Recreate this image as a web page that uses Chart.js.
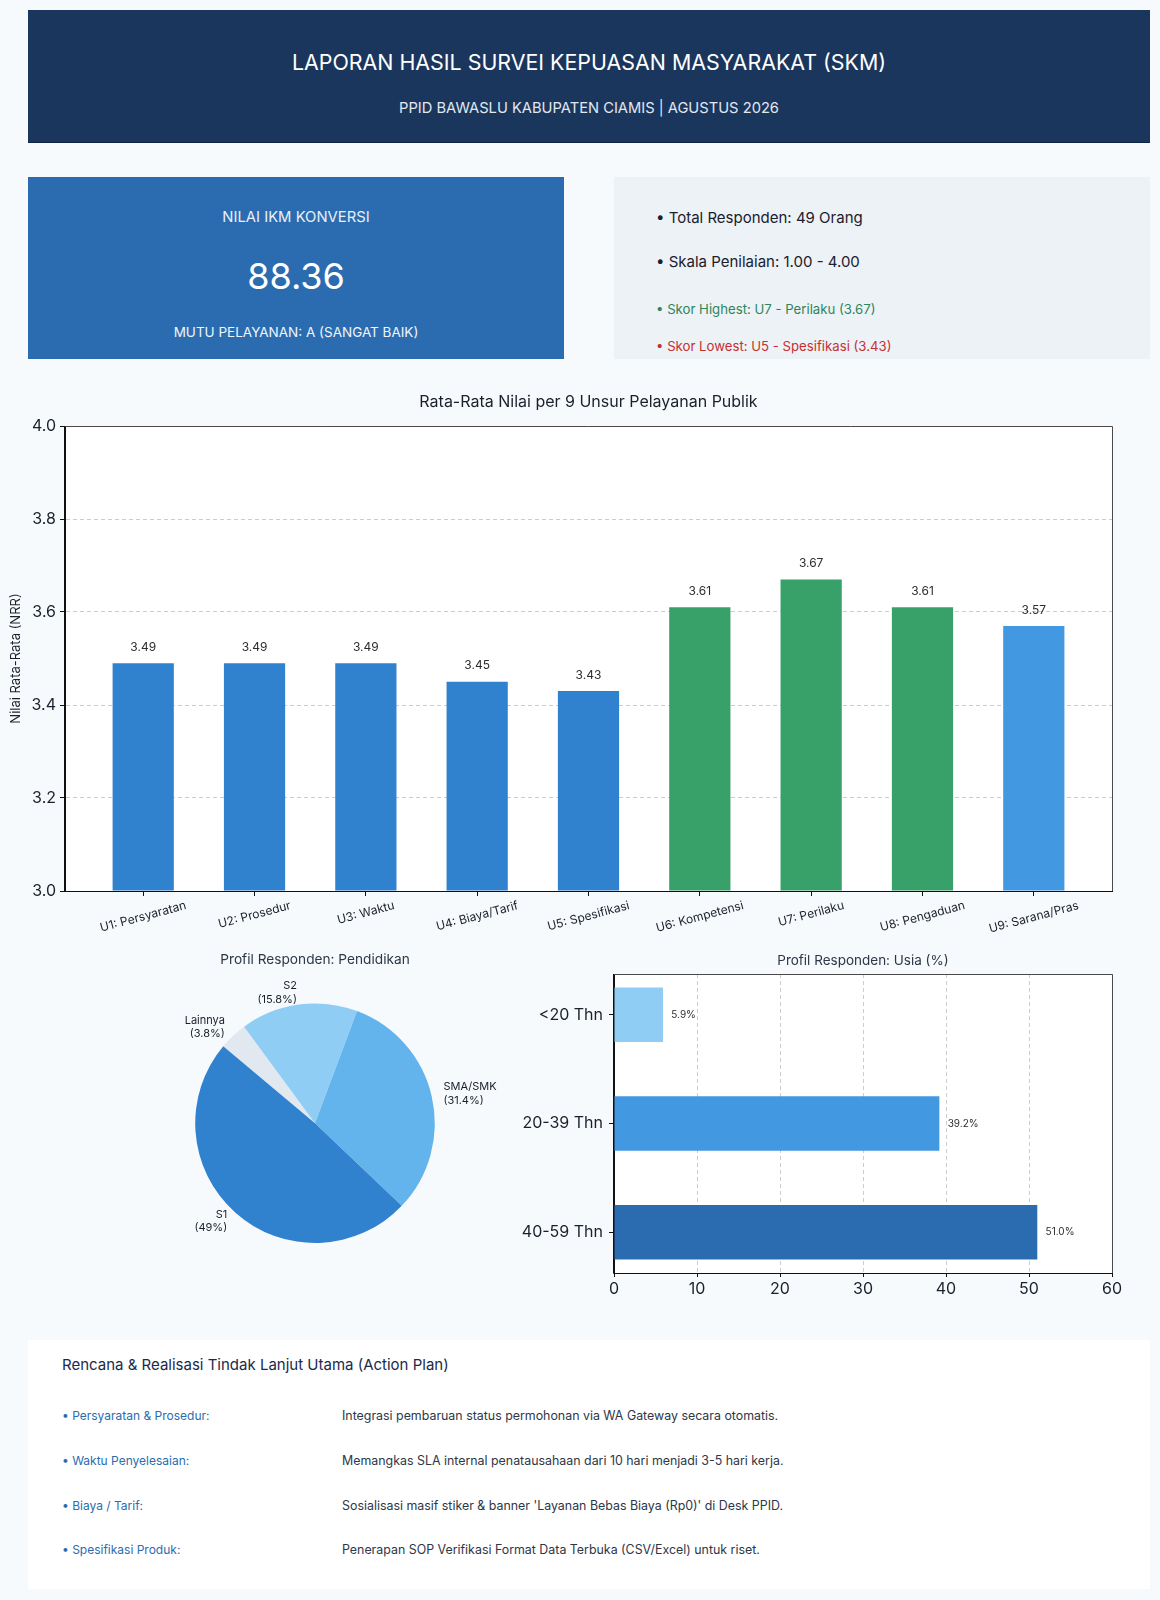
<!DOCTYPE html>
<html>
<head>
<meta charset="utf-8">
<script src="https://cdn.jsdelivr.net/npm/chart.js@4.4.1/dist/chart.umd.min.js"></script>
<style>
  html, body { margin: 0; padding: 0; }
  body { width: 1160px; height: 1600px; background: #f7fafc; position: relative; font-family: "Inter", "Noto Sans", sans-serif; overflow: hidden; }
  .abs { position: absolute; }
  .t { position: absolute; white-space: nowrap; }
  .c { transform: translateX(-50%); text-align: center; }
  #header { left: 28px; top: 10px; width: 1122px; height: 132px; background: #1a365d; border-bottom: 1px solid #0e2546; }
  #kpi { left: 28px; top: 177px; width: 536px; height: 182px; background: #2b6cb0; }
  #info { left: 614px; top: 177px; width: 536px; height: 182px; background: #edf2f7; }
  #action { left: 28px; top: 1340px; width: 1122px; height: 249px; background: #ffffff; }
  canvas { position: absolute; }
</style>
</head>
<body>
<div id="header" class="abs"></div>
<div class="t c" style="left:589px; top:49px; font-size:21.4px; line-height:26px; color:#ffffff;">LAPORAN HASIL SURVEI KEPUASAN MASYARAKAT (SKM)</div>
<div class="t c" style="left:589px; top:99px; font-size:14.7px; line-height:18px; color:#e2e8f0;">PPID BAWASLU KABUPATEN CIAMIS | AGUSTUS 2026</div>

<div id="kpi" class="abs"></div>
<div class="t c" style="left:296px; top:208px; font-size:14.8px; line-height:18px; color:#e6f0fa;">NILAI IKM KONVERSI</div>
<div class="t c" style="left:296px; top:252px; font-size:36px; line-height:48px; color:#ffffff;">88.36</div>
<div class="t c" style="left:296px; top:323px; font-size:13.5px; line-height:18px; color:#f0f6fc;">MUTU PELAYANAN: A (SANGAT BAIK)</div>

<div id="info" class="abs"></div>
<div class="t" style="left:656px; top:208px; font-size:15px; line-height:20px; color:#1a202c;">• Total Responden: 49 Orang</div>
<div class="t" style="left:656px; top:252px; font-size:15px; line-height:20px; color:#1a202c;">• Skala Penilaian: 1.00 - 4.00</div>
<div class="t" style="left:656px; top:300px; font-size:13.2px; line-height:18px; color:#2f855a;">• Skor Highest: U7 - Perilaku (3.67)</div>
<div class="t" style="left:656px; top:337px; font-size:13.2px; line-height:18px; color:#c53030;">• Skor Lowest: U5 - Spesifikasi (3.43)</div>

<canvas id="mainChart" style="left:0px; top:380px;" width="1160" height="560"></canvas>
<canvas id="pieChart" style="left:150px; top:940px;" width="370" height="320"></canvas>
<canvas id="ageChart" style="left:500px; top:940px;" width="660" height="365"></canvas>

<div id="action" class="abs"></div>
<div class="t" style="left:62px; top:1355px; font-size:15px; line-height:20px; color:#1a2a4a;">Rencana &amp; Realisasi Tindak Lanjut Utama (Action Plan)</div>
<div class="t" style="left:62px; top:1408px; font-size:12px; line-height:16px; color:#2b6cb0;">• Persyaratan &amp; Prosedur:</div>
<div class="t" style="left:342px; top:1408px; font-size:12.4px; line-height:16px; color:#2d3748;">Integrasi pembaruan status permohonan via WA Gateway secara otomatis.</div>
<div class="t" style="left:62px; top:1453px; font-size:12px; line-height:16px; color:#2b6cb0;">• Waktu Penyelesaian:</div>
<div class="t" style="left:342px; top:1453px; font-size:12.4px; line-height:16px; color:#2d3748;">Memangkas SLA internal penatausahaan dari 10 hari menjadi 3-5 hari kerja.</div>
<div class="t" style="left:62px; top:1498px; font-size:12px; line-height:16px; color:#2b6cb0;">• Biaya / Tarif:</div>
<div class="t" style="left:342px; top:1498px; font-size:12.4px; line-height:16px; color:#2d3748;">Sosialisasi masif stiker &amp; banner 'Layanan Bebas Biaya (Rp0)' di Desk PPID.</div>
<div class="t" style="left:62px; top:1542px; font-size:12px; line-height:16px; color:#2b6cb0;">• Spesifikasi Produk:</div>
<div class="t" style="left:342px; top:1542px; font-size:12.4px; line-height:16px; color:#2d3748;">Penerapan SOP Verifikasi Format Data Terbuka (CSV/Excel) untuk riset.</div>

<script>
// ---------- DATA ----------
const unsurLabels = ['U1: Persyaratan', 'U2: Prosedur', 'U3: Waktu', 'U4: Biaya/Tarif', 'U5: Spesifikasi', 'U6: Kompetensi', 'U7: Perilaku', 'U8: Pengaduan', 'U9: Sarana/Pras'];
const unsurValues = [3.49, 3.49, 3.49, 3.45, 3.43, 3.61, 3.67, 3.61, 3.57];
const unsurColors = ['#3182CE', '#3182CE', '#3182CE', '#3182CE', '#3182CE', '#38A169', '#38A169', '#38A169', '#4299E1'];
const nrrTicks = [3.0, 3.2, 3.4, 3.6, 3.8, 4.0];

const eduLabels = ['S1', 'SMA/SMK', 'S2', 'Lainnya'];
const eduValues = [49, 31.4, 15.8, 3.8];
const eduColors = ['#3182CE', '#63B3ED', '#90CDF4', '#E2E8F0'];

const ageLabels = ['<20 Thn', '20-39 Thn', '40-59 Thn'];
const ageValues = [5.9, 39.2, 51.0];
const ageColors = ['#90CDF4', '#4299E1', '#2B6CB0'];
const ageTicks = [0, 10, 20, 30, 40, 50, 60];

// ---------- COMMON ----------
const FONT = '"Inter", "Noto Sans", sans-serif';
Chart.defaults.font.family = FONT;
Chart.defaults.color = '#1a202c';
Chart.defaults.animation = false;
Chart.defaults.plugins.legend.display = false;
Chart.defaults.plugins.tooltip.enabled = false;

const frameAndBg = {
  id: 'frameAndBg',
  beforeDraw(chart) {
    const a = chart.chartArea, ctx = chart.ctx;
    ctx.save();
    ctx.fillStyle = '#ffffff';
    ctx.fillRect(a.left, a.top, a.right - a.left, a.bottom - a.top);
    ctx.restore();
  },
  afterDraw(chart, args, opts) {
    const a = chart.chartArea, ctx = chart.ctx;
    ctx.save();
    ctx.lineWidth = 1;
    ctx.strokeStyle = '#4a4a4a';
    ctx.beginPath();
    ctx.moveTo(a.left, a.top + 0.5); ctx.lineTo(a.right + 0.5, a.top + 0.5); ctx.lineTo(a.right + 0.5, a.bottom);
    ctx.stroke();
    ctx.strokeStyle = '#111111';
    ctx.beginPath();
    ctx.moveTo(a.left - 0.5, a.top); ctx.lineTo(a.left - 0.5, a.bottom + 0.5); ctx.lineTo(a.right + 0.5, a.bottom + 0.5);
    ctx.stroke();
    // title centred over the plot area
    if (opts && opts.text) {
      ctx.font = opts.size + 'px ' + FONT;
      ctx.fillStyle = opts.color || '#1a202c';
      ctx.textAlign = 'center';
      ctx.textBaseline = 'middle';
      ctx.fillText(opts.text, (a.left + a.right) / 2, opts.y);
    }
    ctx.restore();
  }
};

// ---------- MAIN BAR CHART ----------
const mainPlugin = {
  id: 'mainLabels',
  afterDraw(chart) {
    const ctx = chart.ctx, a = chart.chartArea;
    const xs = chart.scales.x;
    const meta = chart.getDatasetMeta(0);
    ctx.save();
    ctx.font = '12px ' + FONT;
    ctx.fillStyle = '#2d2d2d';
    ctx.textAlign = 'center';
    ctx.textBaseline = 'middle';
    meta.data.forEach((bar, i) => {
      ctx.fillText(unsurValues[i].toFixed(2), bar.x, bar.y - 16);
    });
    const ang = 15 * Math.PI / 180;
    ctx.font = '12px ' + FONT;
    ctx.fillStyle = '#1a202c';
    unsurLabels.forEach((lab, i) => {
      const x = xs.getPixelForValue(i);
      const w = ctx.measureText(lab).width;
      const h = 12;
      const boxH = w * Math.sin(ang) + h * Math.cos(ang);
      const cy = a.bottom + 8.5 + boxH / 2;
      ctx.save();
      ctx.translate(x, cy);
      ctx.rotate(-ang);
      ctx.fillText(lab, 0, 0);
      ctx.restore();
    });
    ctx.restore();
  }
};

new Chart(document.getElementById('mainChart'), {
  type: 'bar',
  data: {
    datasets: [{
      data: unsurValues.map((v, i) => ({ x: i, y: v })),
      backgroundColor: unsurColors,
      borderWidth: 0,
      base: 3,
      barPercentage: 0.55,
      categoryPercentage: 1.0
    }]
  },
  options: {
    responsive: false,
    devicePixelRatio: 1,
    layout: { padding: { left: 4, right: 48, top: 46, bottom: 0 } },
    plugins: {
      title: { display: false },
      frameAndBg: { text: 'Rata-Rata Nilai per 9 Unsur Pelayanan Publik', size: 16, y: 22, color: '#1a202c' }
    },
    scales: {
      x: {
        type: 'linear',
        min: -0.7025,
        max: 8.7025,
        offset: false,
        afterBuildTicks: (s) => { s.ticks = unsurLabels.map((_, i) => ({ value: i })); },
        afterFit: (s) => { s.height = 49; },
        ticks: { display: false },
        grid: { offset: false, drawOnChartArea: false, drawTicks: true, tickLength: 5, tickColor: '#111', tickWidth: 1 },
        border: { display: true, color: '#111', width: 1 }
      },
      y: {
        type: 'linear',
        min: 3,
        max: 4,
        afterBuildTicks: (s) => { s.ticks = nrrTicks.map(v => ({ value: v })); },
        afterFit: (s) => { s.width = 61; },
        ticks: {
          font: { size: 16 },
          color: '#1a202c',
          padding: 4,
          callback: (v) => Number(v).toFixed(1)
        },
        title: {
          display: true,
          text: 'Nilai Rata-Rata (NRR)',
          font: { size: 13 },
          color: '#1a202c',
          padding: { top: 4, bottom: 4 }
        },
        grid: { color: 'rgba(0,0,0,0.2)', lineWidth: 1, drawTicks: true, tickLength: 5, tickColor: '#111' },
        border: { display: true, color: '#111', width: 1, dash: [4, 3] }
      }
    }
  },
  plugins: [frameAndBg, mainPlugin]
});

// ---------- PIE CHART ----------
const pieOrder = [3, 2, 1, 0]; // Chart.js draws clockwise; this reproduces the counter-clockwise layout
const pieLabelPlugin = {
  id: 'pieLabels',
  afterDraw(chart) {
    const ctx = chart.ctx;
    const meta = chart.getDatasetMeta(0);
    ctx.save();
    ctx.font = '11px ' + FONT;
    ctx.fillStyle = '#1a202c';
    ctx.textBaseline = 'middle';
    meta.data.forEach((arc, k) => {
      const idx = pieOrder[k];
      const mid = (arc.startAngle + arc.endAngle) / 2;
      const r = arc.outerRadius * 1.1;
      const x = arc.x + Math.cos(mid) * r;
      const y = arc.y + Math.sin(mid) * r;
      ctx.textAlign = Math.cos(mid) >= 0 ? 'left' : 'right';
      ctx.fillText(eduLabels[idx], x, y - 6.6);
      ctx.fillText('(' + eduValues[idx] + '%)', x, y + 6.6);
    });
    ctx.restore();
  }
};

new Chart(document.getElementById('pieChart'), {
  type: 'pie',
  data: {
    labels: pieOrder.map(i => eduLabels[i]),
    datasets: [{
      data: pieOrder.map(i => eduValues[i]),
      backgroundColor: pieOrder.map(i => eduColors[i]),
      borderWidth: 0,
      hoverOffset: 0
    }]
  },
  options: {
    responsive: false,
    devicePixelRatio: 1,
    rotation: -50,
    layout: { padding: { left: 45, right: 85, top: 0, bottom: 17 } },
    plugins: {
      title: {
        display: true,
        text: 'Profil Responden: Pendidikan',
        font: { size: 13.7, weight: 'normal' },
        color: '#2d3748',
        padding: { top: 12, bottom: 35 }
      }
    }
  },
  plugins: [pieLabelPlugin]
});

// ---------- AGE HORIZONTAL BAR ----------
const agePlugin = {
  id: 'ageLabels',
  afterDraw(chart) {
    const ctx = chart.ctx;
    const xs = chart.scales.x;
    const meta = chart.getDatasetMeta(0);
    ctx.save();
    ctx.font = '10px ' + FONT;
    ctx.fillStyle = '#2d2d2d';
    ctx.textAlign = 'left';
    ctx.textBaseline = 'middle';
    meta.data.forEach((bar, i) => {
      ctx.fillText(ageValues[i].toFixed(1) + '%', xs.getPixelForValue(ageValues[i] + 1), bar.y);
    });
    ctx.restore();
  }
};

new Chart(document.getElementById('ageChart'), {
  type: 'bar',
  data: {
    datasets: [{
      data: ageValues.map((v, i) => ({ x: v, y: i })),
      backgroundColor: ageColors,
      borderWidth: 0,
      barPercentage: 0.5,
      categoryPercentage: 1.0
    }]
  },
  options: {
    indexAxis: 'y',
    responsive: false,
    devicePixelRatio: 1,
    layout: { padding: { left: 0, right: 48, top: 34, bottom: 0 } },
    plugins: {
      title: { display: false },
      frameAndBg: { text: 'Profil Responden: Usia (%)', size: 13.5, y: 21, color: '#2d3748' }
    },
    scales: {
      x: {
        type: 'linear',
        min: 0,
        max: 60,
        afterBuildTicks: (s) => { s.ticks = ageTicks.map(v => ({ value: v })); },
        afterFit: (s) => { s.height = 32; },
        ticks: { font: { size: 16 }, color: '#1a202c', padding: 3 },
        grid: { color: 'rgba(0,0,0,0.2)', lineWidth: 1, drawTicks: true, tickLength: 4, tickColor: '#111' },
        border: { display: true, color: '#111', width: 1, dash: [4, 3] }
      },
      y: {
        type: 'linear',
        min: -0.375,
        max: 2.375,
        reverse: true,
        offset: false,
        afterBuildTicks: (s) => { s.ticks = ageLabels.map((_, i) => ({ value: i })); },
        afterFit: (s) => { s.width = 114; },
        ticks: {
          font: { size: 16 },
          color: '#1a202c',
          padding: 6,
          callback: (v) => ageLabels[v] !== undefined ? ageLabels[v] : ''
        },
        grid: { offset: false, drawOnChartArea: false, drawTicks: true, tickLength: 5, tickColor: '#111' },
        border: { display: true, color: '#111', width: 1 }
      }
    }
  },
  plugins: [frameAndBg, agePlugin]
});
</script>
</body>
</html>
